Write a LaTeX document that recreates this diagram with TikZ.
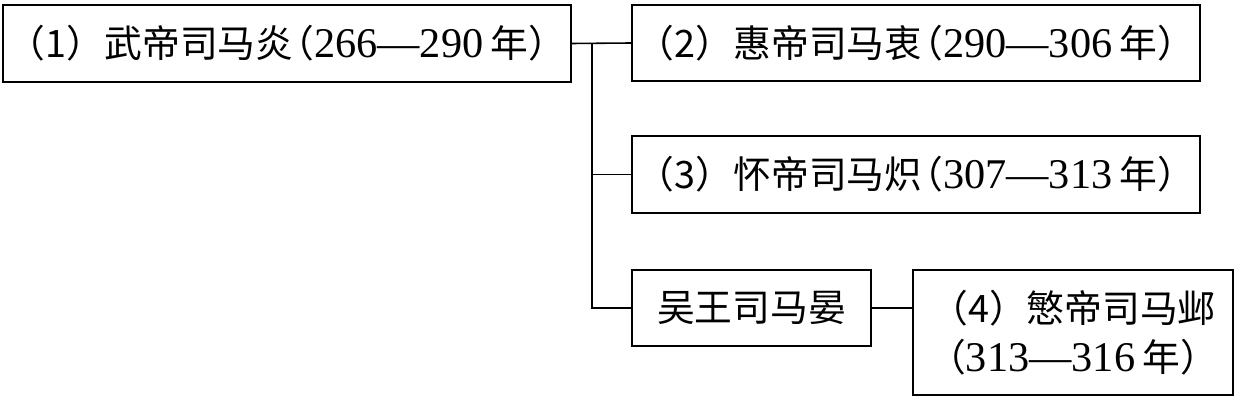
\documentclass[tikz,border=0pt]{standalone}
\usepackage{fontspec}
\setmainfont[Scale=1.12]{Liberation Serif}
\newfontfamily\cjk{Noto Sans CJK SC}
\usetikzlibrary{positioning}
\newcommand{\zh}[1]{{\cjk #1}}
\newcommand{\lpar}{\kern-0.4em\zh{（}}

\begin{document}
\begin{tikzpicture}[x=0.02cm,y=-0.02cm,every node/.style={font=\fontsize{21.5}{28}\selectfont},
    emperor/.style={draw,line width=1.3pt,inner sep=0pt,align=center},
    link/.style={line width=0.9pt}]
  \useasboundingbox (0,0) rectangle (1238,398);
  % boxes
  \node[emperor,minimum width=11.36cm,minimum height=1.54cm] (wudi) at (287,43.5)
    {\zh{（1）武帝司马炎}\lpar 266—290\,\zh{年）}};
  \node[emperor,minimum width=11.36cm,minimum height=1.52cm] (huidi) at (916,43)
    {\zh{（2）惠帝司马衷}\lpar 290—306\,\zh{年）}};
  \node[emperor,minimum width=11.36cm,minimum height=1.54cm] (huaidi) at (916,174.5)
    {\zh{（3）怀帝司马炽}\lpar 307—313\,\zh{年）}};
  \node[emperor,minimum width=4.78cm,minimum height=1.52cm] (wuwang) at (751.5,308)
    {\zh{吴王司马晏}};
  \node[emperor,minimum width=6.4cm,minimum height=2.5cm] (mindi) at (1073,332.5)
    {\zh{（4）慜帝司马邺}\\\zh{（}313—316\,\zh{年）}};
  \coordinate (fork) at (592,43.5);
  % lines
  \draw[link] (wudi.east) -- (huidi.west);
  \draw[link] (fork) |- (huaidi.west);
  \draw[link] (fork) |- (wuwang.west);
  \draw[link] (wuwang.east) -- (wuwang.east -| mindi.west);
\end{tikzpicture}
\end{document}
